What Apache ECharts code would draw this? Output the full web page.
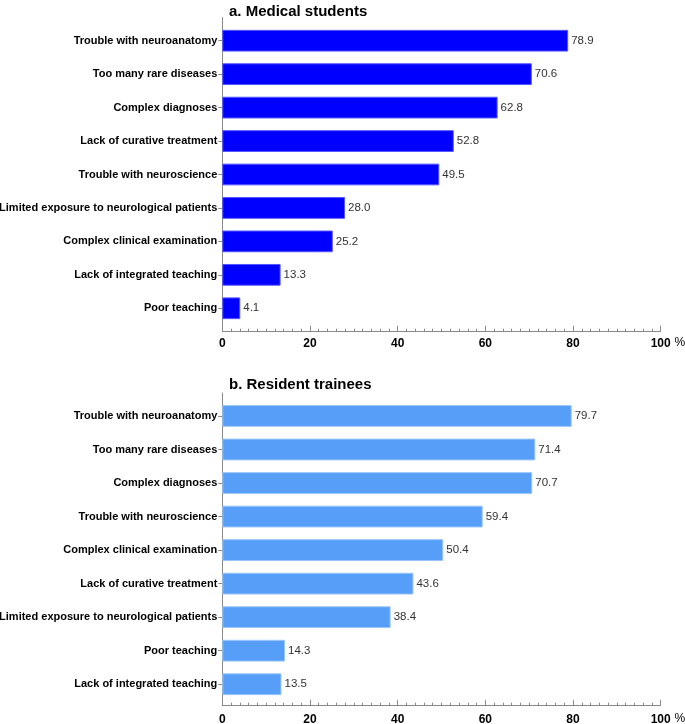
<!DOCTYPE html>
<html><head><meta charset="utf-8">
<script src="https://cdn.jsdelivr.net/npm/echarts@6/dist/echarts.min.js"></script>
<style>html,body{margin:0;padding:0;background:#fff}#c{width:685px;height:724px}</style>
</head><body><div id="c"></div>
<script>
const catsA = ['Trouble with neuroanatomy','Too many rare diseases','Complex diagnoses','Lack of curative treatment','Trouble with neuroscience','Limited exposure to neurological patients','Complex clinical examination','Lack of integrated teaching','Poor teaching'];
const valsA = [78.9,70.6,62.8,52.8,49.5,28.0,25.2,13.3,4.1];
const catsB = ['Trouble with neuroanatomy','Too many rare diseases','Complex diagnoses','Trouble with neuroscience','Complex clinical examination','Lack of curative treatment','Limited exposure to neurological patients','Poor teaching','Lack of integrated teaching'];
const valsB = [79.7,71.4,70.7,59.4,50.4,43.6,38.4,14.3,13.5];
const xTicks = [0,20,40,60,80,100];

const font = 'Liberation Sans, Arial, sans-serif';
const axisColor = '#8a8a8a';
// visible x axis (outer grid)
function xAxisOuter(idx, margin){
  return {type:'value', gridIndex:idx, min:0, max:100, interval:20,
    axisLine:{show:true, lineStyle:{color:axisColor, width:1}},
    axisTick:{show:true, inside:true, length:6, lineStyle:{color:axisColor}},
    minorTick:{show:true, splitNumber:10, length:3, lineStyle:{color:axisColor}},
    splitLine:{show:false},
    axisLabel:{color:'#000', fontWeight:'bold', fontSize:12, fontFamily:font, margin:margin,
      formatter:v=> xTicks.includes(v)? String(v):''},
    name:'%', nameLocation:'end', nameGap:12,
    nameTextStyle:{color:'#000', fontSize:12, fontFamily:font, verticalAlign:'top', padding:[margin-1,0,0,0]}
  };
}
function yAxisOuter(idx){
  return {type:'value', gridIndex:idx, min:0, max:1,
    axisLine:{show:true, lineStyle:{color:axisColor}},
    axisTick:{show:false}, axisLabel:{show:false}, splitLine:{show:false}};
}
function xAxisInner(idx){
  return {type:'value', gridIndex:idx, min:0, max:100, show:false, splitLine:{show:false}};
}
function yAxisInner(idx, cats){
  return {type:'category', gridIndex:idx, data:cats, inverse:true,
    axisLine:{show:false},
    axisTick:{show:true, alignWithLabel:true, length:4, lineStyle:{color:axisColor}},
    axisLabel:{color:'#000', fontWeight:'bold', fontSize:11, fontFamily:font, margin:5}
  };
}
function series(idx, vals, color, border){
  return {type:'bar', xAxisIndex:idx, yAxisIndex:idx, data:vals, barWidth:'65%',
    itemStyle:{color:color, borderColor:border, borderWidth:1},
    label:{show:true, position:'right', distance:3, color:'#333', fontSize:11.5, fontFamily:font,
      formatter:p=>p.value.toFixed(1)}
  };
}
const g = (top,h)=>({left:222.3, right:24.3, top:top, height:h, outerBoundsMode:'none', containLabel:false});
const chart = echarts.init(document.getElementById('c'), null, {renderer:'canvas'});
chart.setOption({
  animation:false,
  title:[
    {text:'a. Medical students', left:224, top:-1, textStyle:{fontSize:15, fontWeight:'bold', color:'#000', fontFamily:font}},
    {text:'b. Resident trainees', left:224, top:372, textStyle:{fontSize:15, fontWeight:'bold', color:'#000', fontFamily:font}}
  ],
  grid:[ g(17.5, 314.2), g(24, 301), g(393, 312.7), g(399.2, 301.8) ],
  xAxis:[xAxisOuter(0,6), xAxisInner(1), xAxisOuter(2,8), xAxisInner(3)],
  yAxis:[yAxisOuter(0), yAxisInner(1,catsA), yAxisOuter(2), yAxisInner(3,catsB)],
  series:[series(1,valsA,'#0000ff','#5555ff'), series(3,valsB,'#569ef8','#9cc6f8')]
});
</script></body></html>
